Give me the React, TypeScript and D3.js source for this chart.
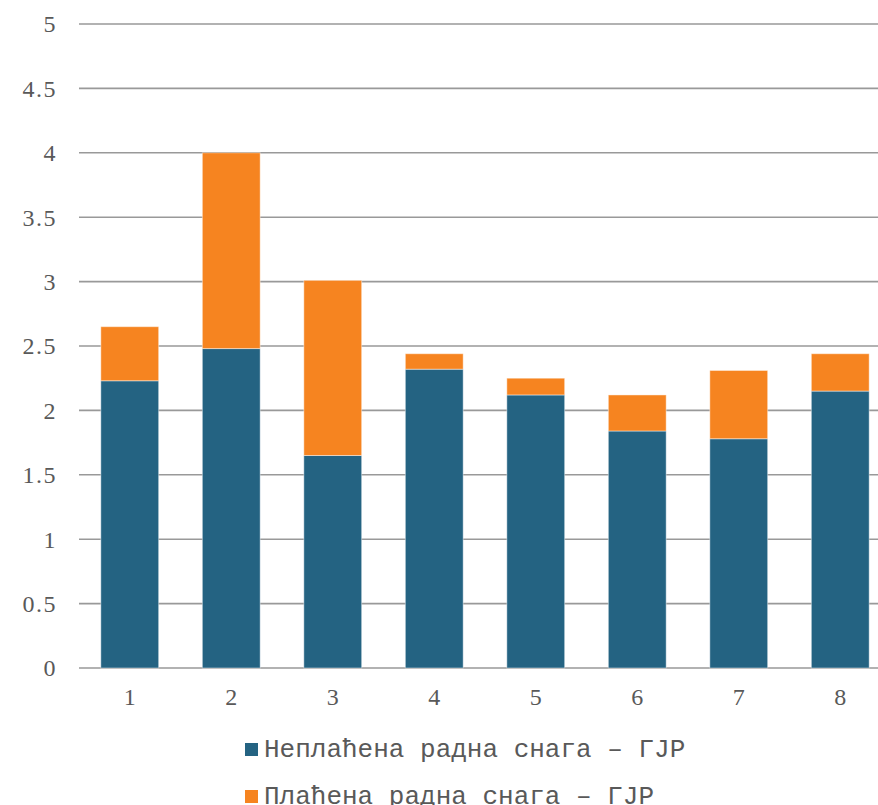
import { useEffect, useRef } from "react";
import { select, scaleBand, scaleLinear, stack } from "d3";

const width = 878;
const height = 805;

const categories = ["1", "2", "3", "4", "5", "6", "7", "8"];
const unpaid = [2.23, 2.48, 1.65, 2.32, 2.12, 1.84, 1.78, 2.15];
const paid = [0.42, 1.52, 1.36, 0.12, 0.13, 0.28, 0.53, 0.29];
const seriesNames = ["Неплаћена радна снага – ГЈР", "Плаћена радна снага – ГЈР"];
const seriesColors = ["#246382", "#F68420"];
const yTicks = [0, 0.5, 1, 1.5, 2, 2.5, 3, 3.5, 4, 4.5, 5];

const plotLeft = 79;
const plotTop = 24;
const plotBottom = 668;

export default function App() {
  const svgRef = useRef<SVGSVGElement | null>(null);

  useEffect(() => {
    const svg = select(svgRef.current);
    svg.selectAll("*").remove();

    const x = scaleBand<string>()
      .domain(categories)
      .range([plotLeft, 891])
      .paddingInner(0.43)
      .paddingOuter(0.215);
    const y = scaleLinear().domain([0, 5]).range([plotBottom, plotTop]);

    const rows = categories.map((c, i) => ({ cat: c, s0: unpaid[i], s1: paid[i] }));
    const stacked = stack<any>().keys(["s0", "s1"])(rows);

    // gridlines
    svg
      .append("g")
      .selectAll("line")
      .data(yTicks)
      .enter()
      .append("line")
      .attr("x1", plotLeft)
      .attr("x2", width)
      .attr("y1", (d) => y(d))
      .attr("y2", (d) => y(d))
      .attr("stroke", "#999999")
      .attr("stroke-width", 1.6);

    // y labels
    svg
      .append("g")
      .selectAll("text")
      .data(yTicks)
      .enter()
      .append("text")
      .attr("x", 57)
      .attr("y", (d) => y(d))
      .attr("dy", "0.35em")
      .attr("text-anchor", "end")
      .attr("font-family", "'Liberation Serif', serif")
      .attr("font-size", 24)
      .attr("letter-spacing", 1.5)
      .attr("fill", "#595959")
      .text((d) => String(d));

    // bars
    svg
      .append("g")
      .selectAll("g")
      .data(stacked)
      .enter()
      .append("g")
      .attr("fill", (_d, i) => seriesColors[i])
      .selectAll("rect")
      .data((d) => d)
      .enter()
      .append("rect")
      .attr("x", (d: any) => x(d.data.cat)!)
      .attr("width", x.bandwidth())
      .attr("y", (d) => y(d[1]))
      .attr("height", (d) => y(d[0]) - y(d[1]))
      .attr("stroke", "rgba(255,255,255,0.45)")
      .attr("stroke-width", 1);

    // x labels
    svg
      .append("g")
      .selectAll("text")
      .data(categories)
      .enter()
      .append("text")
      .attr("x", (d) => x(d)! + x.bandwidth() / 2)
      .attr("y", 697)
      .attr("dy", "0.35em")
      .attr("text-anchor", "middle")
      .attr("font-family", "'Liberation Serif', serif")
      .attr("font-size", 24)
      .attr("fill", "#595959")
      .text((d) => d);

    // legend
    const legend = svg
      .append("g")
      .selectAll("g")
      .data(seriesNames)
      .enter()
      .append("g")
      .attr("transform", (_d, i) => `translate(245, ${743 + i * 47})`);
    legend
      .append("rect")
      .attr("width", 13)
      .attr("height", 13)
      .attr("fill", (_d, i) => seriesColors[i]);
    legend
      .append("text")
      .attr("x", 19)
      .attr("y", 14)
      .attr("font-family", "'Liberation Mono', monospace")
      .attr("font-size", 26)
      .attr("fill", "#595959")
      .text((d) => d);
  }, []);

  return (
    <svg
      ref={svgRef}
      width={width}
      height={height}
      style={{ position: "absolute", left: 0, top: 0, background: "white" }}
    />
  );
}
